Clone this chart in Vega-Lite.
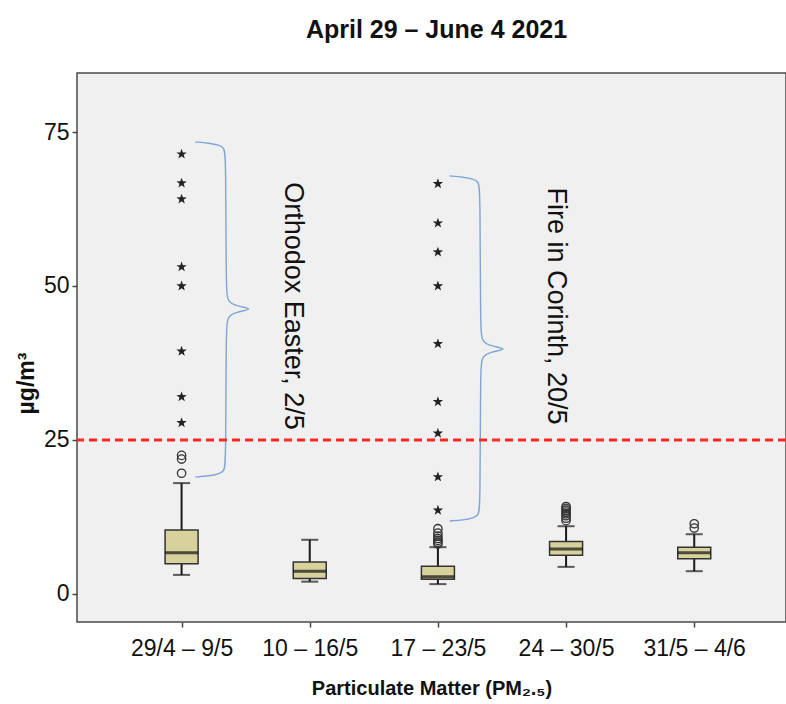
{
  "$schema": "https://vega.github.io/schema/vega-lite/v6.json",
  "width": 709,
  "height": 549,
  "autosize": {"type": "none"},
  "padding": {"left": 77, "top": 73, "right": 0, "bottom": 82},
  "background": "white",
  "config": {
    "view": {"fill": "#f0f0f0", "stroke": "#4a4a4a", "strokeWidth": 1.5},
    "font": "Liberation Sans"
  },
  "title": {"text": "April 29 – June 4 2021", "fontSize": 25, "fontWeight": "bold", "font": "Liberation Sans", "color": "#111111", "baseline": "alphabetic", "offset": 10, "dx": 5},
  "datasets": {
    "boxes": [
      {"x": 0, "lo": 3.1, "q1": 4.9, "med": 6.7, "q3": 10.4, "hi": 18.0},
      {"x": 1, "lo": 2.0, "q1": 2.5, "med": 3.7, "q3": 5.2, "hi": 8.8},
      {"x": 2, "lo": 1.6, "q1": 2.4, "med": 2.8, "q3": 4.5, "hi": 7.6},
      {"x": 3, "lo": 4.4, "q1": 6.3, "med": 7.3, "q3": 8.5, "hi": 11.0},
      {"x": 4, "lo": 3.7, "q1": 5.7, "med": 6.7, "q3": 7.6, "hi": 9.7}
    ],
    "circles": [
      {"x": 0, "v": 19.6}, {"x": 0, "v": 21.9}, {"x": 0, "v": 22.5},
      {"x": 2, "v": 8.1}, {"x": 2, "v": 8.4}, {"x": 2, "v": 8.7}, {"x": 2, "v": 9.0}, {"x": 2, "v": 9.4}, {"x": 2, "v": 9.9}, {"x": 2, "v": 10.6},
      {"x": 3, "v": 11.9}, {"x": 3, "v": 12.3}, {"x": 3, "v": 12.7}, {"x": 3, "v": 13.0}, {"x": 3, "v": 13.3}, {"x": 3, "v": 13.6}, {"x": 3, "v": 13.9}, {"x": 3, "v": 14.2},
      {"x": 4, "v": 10.7}, {"x": 4, "v": 11.4}
    ],
    "stars": [
      {"x": 0, "v": 71.4}, {"x": 0, "v": 66.7}, {"x": 0, "v": 64.1}, {"x": 0, "v": 53.1}, {"x": 0, "v": 50.0}, {"x": 0, "v": 39.4}, {"x": 0, "v": 32.0}, {"x": 0, "v": 27.8},
      {"x": 2, "v": 66.6}, {"x": 2, "v": 60.2}, {"x": 2, "v": 55.5}, {"x": 2, "v": 50.0}, {"x": 2, "v": 40.6}, {"x": 2, "v": 31.2}, {"x": 2, "v": 26.1}, {"x": 2, "v": 19.0}, {"x": 2, "v": 13.6}
    ],
    "braces": [
      {"b": 1, "o": 1, "x": 0.1076, "y": 73.38},
      {"b": 1, "o": 2, "x": 0.2153, "y": 73.21},
      {"b": 1, "o": 3, "x": 0.2922, "y": 72.89},
      {"b": 1, "o": 4, "x": 0.3307, "y": 72.40},
      {"b": 1, "o": 5, "x": 0.3461, "y": 71.43},
      {"b": 1, "o": 6, "x": 0.3461, "y": 49.03},
      {"b": 1, "o": 7, "x": 0.3615, "y": 47.56},
      {"b": 1, "o": 8, "x": 0.4153, "y": 46.75},
      {"b": 1, "o": 9, "x": 0.5768, "y": 46.27},
      {"b": 1, "o": 10, "x": 0.4153, "y": 45.78},
      {"b": 1, "o": 11, "x": 0.3615, "y": 44.97},
      {"b": 1, "o": 12, "x": 0.3461, "y": 43.51},
      {"b": 1, "o": 13, "x": 0.3461, "y": 20.94},
      {"b": 1, "o": 14, "x": 0.3307, "y": 19.97},
      {"b": 1, "o": 15, "x": 0.2922, "y": 19.48},
      {"b": 1, "o": 16, "x": 0.2153, "y": 19.16},
      {"b": 1, "o": 17, "x": 0.1076, "y": 18.99},
      {"b": 2, "o": 1, "x": 2.0922, "y": 67.86},
      {"b": 2, "o": 2, "x": 2.1999, "y": 67.69},
      {"b": 2, "o": 3, "x": 2.2768, "y": 67.37},
      {"b": 2, "o": 4, "x": 2.3153, "y": 66.88},
      {"b": 2, "o": 5, "x": 2.3307, "y": 65.91},
      {"b": 2, "o": 6, "x": 2.3307, "y": 42.53},
      {"b": 2, "o": 7, "x": 2.3461, "y": 41.07},
      {"b": 2, "o": 8, "x": 2.3999, "y": 40.26},
      {"b": 2, "o": 9, "x": 2.5615, "y": 39.77},
      {"b": 2, "o": 10, "x": 2.3999, "y": 39.29},
      {"b": 2, "o": 11, "x": 2.3461, "y": 38.47},
      {"b": 2, "o": 12, "x": 2.3307, "y": 37.01},
      {"b": 2, "o": 13, "x": 2.3307, "y": 13.80},
      {"b": 2, "o": 14, "x": 2.3153, "y": 12.82},
      {"b": 2, "o": 15, "x": 2.2768, "y": 12.34},
      {"b": 2, "o": 16, "x": 2.1999, "y": 12.01},
      {"b": 2, "o": 17, "x": 2.0922, "y": 11.85}
    ],
    "notes": [
      {"x": 0.869, "y": 46.75, "t": "Orthodox Easter, 2/5"},
      {"x": 2.923, "y": 46.75, "t": "Fire in Corinth, 20/5"}
    ],
    "limit": [
      {"v": 25}
    ]
  },
  "layer": [
    {
      "data": {"name": "boxes"},
      "mark": {"type": "rule", "color": "#1a1a1a", "strokeWidth": 2},
      "encoding": {
        "x": {"field": "x", "type": "quantitative", "title": "Particulate Matter (PM₂.₅)",
              "scale": {"domain": [-0.777, 4.677], "nice": false, "zero": false},
              "axis": {"orient": "bottom", "values": [0, 1, 2, 3, 4],
                       "labelExpr": "['29/4 – 9/5','10 – 16/5','17 – 23/5','24 – 30/5','31/5 – 4/6'][datum.value]",
                       "labelFontSize": 23, "labelColor": "#111111", "labelPadding": 10, "labelFlush": false, "labelOverlap": false,
                       "titleFontSize": 20, "titleFontWeight": "bold", "titleColor": "#111111", "titlePadding": 18,
                       "tickColor": "#444444", "tickSize": 5, "tickWidth": 1.5, "domain": false, "grid": false}},
        "y": {"field": "lo", "type": "quantitative", "title": "µg/m³",
              "scale": {"domain": [-4.55, 84.58], "nice": false, "zero": false},
              "axis": {"orient": "left", "values": [0, 25, 50, 75], "labelFontSize": 23, "labelColor": "#111111", "labelPadding": 3,
                       "titleFontSize": 23, "titleFontWeight": "bold", "titleColor": "#111111", "titlePadding": 5, "titleY": 310,
                       "tickColor": "#444444", "tickSize": 5, "tickWidth": 1.5, "domain": false, "grid": false}},
        "y2": {"field": "hi"}
      }
    },
    {
      "data": {"name": "boxes"},
      "mark": {"type": "bar", "width": 33, "fill": "#d7d19b", "stroke": "#333333", "strokeWidth": 1.5},
      "encoding": {
        "x": {"field": "x", "type": "quantitative", "title": "Particulate Matter (PM₂.₅)", "scale": {"domain": [-0.777, 4.677], "nice": false, "zero": false}},
        "y": {"field": "q1", "type": "quantitative", "title": "µg/m³", "scale": {"domain": [-4.55, 84.58], "nice": false, "zero": false}},
        "y2": {"field": "q3"}
      }
    },
    {
      "data": {"name": "boxes"},
      "mark": {"type": "tick", "orient": "horizontal", "size": 33, "thickness": 3, "color": "#111111"},
      "encoding": {
        "x": {"field": "x", "type": "quantitative", "title": "Particulate Matter (PM₂.₅)", "scale": {"domain": [-0.777, 4.677], "nice": false, "zero": false}},
        "y": {"field": "med", "type": "quantitative", "title": "µg/m³", "scale": {"domain": [-4.55, 84.58], "nice": false, "zero": false}}
      }
    },
    {
      "data": {"name": "boxes"},
      "mark": {"type": "tick", "orient": "horizontal", "size": 17, "thickness": 2, "color": "#1a1a1a"},
      "encoding": {
        "x": {"field": "x", "type": "quantitative", "title": "Particulate Matter (PM₂.₅)", "scale": {"domain": [-0.777, 4.677], "nice": false, "zero": false}},
        "y": {"field": "lo", "type": "quantitative", "title": "µg/m³", "scale": {"domain": [-4.55, 84.58], "nice": false, "zero": false}}
      }
    },
    {
      "data": {"name": "boxes"},
      "mark": {"type": "tick", "orient": "horizontal", "size": 17, "thickness": 2, "color": "#1a1a1a"},
      "encoding": {
        "x": {"field": "x", "type": "quantitative", "title": "Particulate Matter (PM₂.₅)", "scale": {"domain": [-0.777, 4.677], "nice": false, "zero": false}},
        "y": {"field": "hi", "type": "quantitative", "title": "µg/m³", "scale": {"domain": [-4.55, 84.58], "nice": false, "zero": false}}
      }
    },
    {
      "data": {"name": "braces"},
      "mark": {"type": "line", "color": "#7fa5d8", "strokeWidth": 1.4, "interpolate": "basis"},
      "encoding": {
        "x": {"field": "x", "type": "quantitative", "title": "Particulate Matter (PM₂.₅)", "scale": {"domain": [-0.777, 4.677], "nice": false, "zero": false}},
        "y": {"field": "y", "type": "quantitative", "title": "µg/m³", "scale": {"domain": [-4.55, 84.58], "nice": false, "zero": false}},
        "detail": {"field": "b", "type": "nominal"},
        "order": {"field": "o", "type": "quantitative"}
      }
    },
    {
      "data": {"name": "limit"},
      "mark": {"type": "rule", "color": "#ff2626", "strokeWidth": 3, "strokeDash": [8, 5]},
      "encoding": {
        "y": {"field": "v", "type": "quantitative", "title": "µg/m³", "scale": {"domain": [-4.55, 84.58], "nice": false, "zero": false}}
      }
    },
    {
      "data": {"name": "notes"},
      "mark": {"type": "text", "angle": 90, "fontSize": 27, "font": "Liberation Sans", "color": "#111111", "align": "center", "baseline": "middle"},
      "encoding": {
        "x": {"field": "x", "type": "quantitative", "title": "Particulate Matter (PM₂.₅)", "scale": {"domain": [-0.777, 4.677], "nice": false, "zero": false}},
        "y": {"field": "y", "type": "quantitative", "title": "µg/m³", "scale": {"domain": [-4.55, 84.58], "nice": false, "zero": false}},
        "text": {"field": "t", "type": "nominal"}
      }
    },
    {
      "data": {"name": "circles"},
      "mark": {"type": "point", "shape": "circle", "size": 70, "filled": false, "stroke": "#333333", "strokeWidth": 1.3, "opacity": 1},
      "encoding": {
        "x": {"field": "x", "type": "quantitative", "title": "Particulate Matter (PM₂.₅)", "scale": {"domain": [-0.777, 4.677], "nice": false, "zero": false}},
        "y": {"field": "v", "type": "quantitative", "title": "µg/m³", "scale": {"domain": [-4.55, 84.58], "nice": false, "zero": false}}
      }
    },
    {
      "data": {"name": "stars"},
      "mark": {"type": "point", "shape": "M0,-1L0.235,-0.324L0.951,-0.309L0.38,0.124L0.588,0.809L0,0.4L-0.588,0.809L-0.38,0.124L-0.951,-0.309L-0.235,-0.324Z", "size": 120, "filled": true, "fill": "#222222", "opacity": 1},
      "encoding": {
        "x": {"field": "x", "type": "quantitative", "title": "Particulate Matter (PM₂.₅)", "scale": {"domain": [-0.777, 4.677], "nice": false, "zero": false}},
        "y": {"field": "v", "type": "quantitative", "title": "µg/m³", "scale": {"domain": [-4.55, 84.58], "nice": false, "zero": false}}
      }
    }
  ]
}
